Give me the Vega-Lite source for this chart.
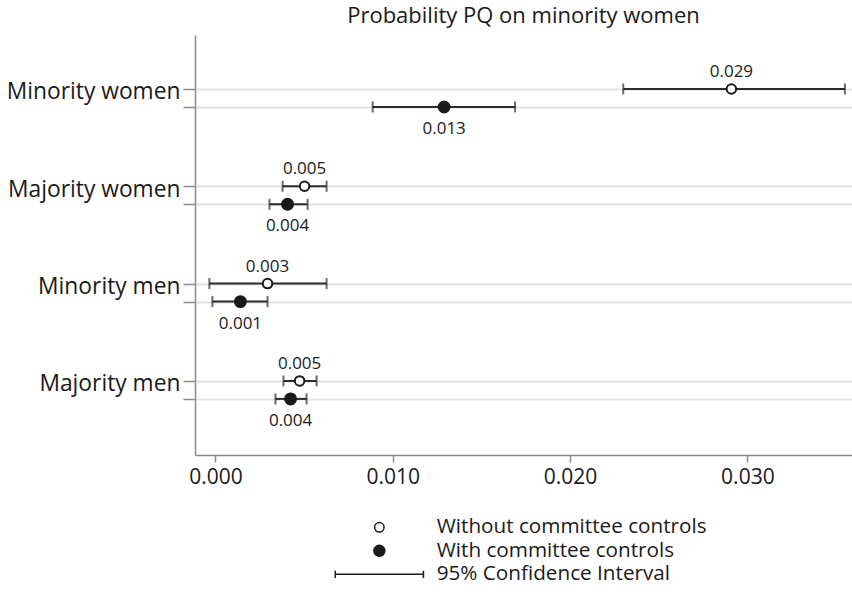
{
  "$schema": "https://vega.github.io/schema/vega-lite/v6.json",
  "width": 657,
  "height": 420,
  "autosize": {"type": "none"},
  "padding": {"left": 195, "top": 35, "right": 0, "bottom": 149},
  "background": "white",
  "config": {"view": {"stroke": null}},
  "title": {"text": "Probability PQ on minority women", "anchor": "middle", "frame": "group", "font": "Open Sans", "fontSize": 22, "fontWeight": "normal", "color": "#1a1a1a", "offset": 7},
  "data": {"values": [
    {"group": "Minority women", "model": "Without committee controls", "est": 0.0291, "lo": 0.0230, "hi": 0.0355},
    {"group": "Minority women", "model": "With committee controls", "est": 0.0129, "lo": 0.00887, "hi": 0.0169},
    {"group": "Majority women", "model": "Without committee controls", "est": 0.00503, "lo": 0.00379, "hi": 0.00627},
    {"group": "Majority women", "model": "With committee controls", "est": 0.00407, "lo": 0.00305, "hi": 0.0052},
    {"group": "Minority men", "model": "Without committee controls", "est": 0.00294, "lo": -0.00034, "hi": 0.00627},
    {"group": "Minority men", "model": "With committee controls", "est": 0.00141, "lo": -0.00017, "hi": 0.00294},
    {"group": "Majority men", "model": "Without committee controls", "est": 0.00475, "lo": 0.00384, "hi": 0.00571},
    {"group": "Majority men", "model": "With committee controls", "est": 0.00424, "lo": 0.00339, "hi": 0.00514}
  ]},
  "encoding": {
    "y": {"field": "group", "type": "nominal", "sort": ["Minority women", "Majority women", "Minority men", "Majority men"],
      "scale": {"domain": ["Minority women", "Majority women", "Minority men", "Majority men"], "paddingInner": 0, "paddingOuter": 0.158, "align": 0.466},
      "axis": null},
    "yOffset": {"field": "model", "type": "nominal", "scale": {"type": "point", "domain": ["Without committee controls", "With committee controls"], "range": [39.65, 57.65], "padding": 0}}
  },
  "resolve": {"axis": {"y": "independent"}},
  "layer": [
    {
      "mark": {"type": "rule", "stroke": "#2b2b2b", "strokeWidth": 2},
      "encoding": {
        "x": {"field": "lo", "type": "quantitative",
          "scale": {"domain": [-0.00115, 0.0359], "nice": false, "zero": false},
          "axis": {"title": null, "values": [0, 0.01, 0.02, 0.03], "format": ".3f", "grid": false, "tickSize": 7, "tickColor": "#8c8c8c", "tickWidth": 1.5, "domainColor": "#8c8c8c", "domainWidth": 1.5, "labelFont": "Open Sans", "labelFontSize": 21, "labelColor": "#1a1a1a", "labelPadding": 4}},
        "x2": {"field": "hi"},
        "y": {"field": "group", "type": "nominal", "sort": ["Minority women", "Majority women", "Minority men", "Majority men"],
          "axis": {"title": null, "orient": "left", "tickOffset": -9, "labelOffset": 3, "grid": true, "gridColor": "#e3e3e3", "gridWidth": 2, "tickSize": 12, "tickColor": "#8c8c8c", "tickWidth": 1.5, "domain": true, "domainColor": "#8c8c8c", "domainWidth": 1.5, "labelFont": "Open Sans", "labelFontSize": 22.8, "labelColor": "#1a1a1a", "labelPadding": 3, "labelLimit": 300}}
      }
    },
    {
      "mark": {"type": "tick", "color": "#2b2b2b", "thickness": 2, "size": 11},
      "encoding": {"x": {"field": "lo", "type": "quantitative"}}
    },
    {
      "mark": {"type": "tick", "color": "#2b2b2b", "thickness": 2, "size": 11},
      "encoding": {"x": {"field": "hi", "type": "quantitative"}}
    },
    {
      "mark": {"type": "point", "stroke": "#1a1a1a", "strokeWidth": 2, "opacity": 1, "fillOpacity": 1},
      "encoding": {
        "x": {"field": "est", "type": "quantitative"},
        "y": {"field": "group", "type": "nominal", "sort": ["Minority women", "Majority women", "Minority men", "Majority men"],
          "axis": {"title": null, "orient": "left", "tickOffset": 9, "grid": true, "gridColor": "#e3e3e3", "gridWidth": 2, "tickSize": 12, "tickColor": "#8c8c8c", "tickWidth": 1.5, "domain": false, "labels": false}},
        "shape": {"field": "model", "type": "nominal",
          "scale": {"domain": ["Without committee controls", "With committee controls", "95% Confidence Interval"], "range": ["circle", "circle", "M-7.2,0H7.2M-7.2,-0.6V0.6M7.2,-0.6V0.6"]},
          "legend": {"title": null, "orient": "none", "legendX": 174, "legendY": 482, "direction": "vertical", "labelFont": "Open Sans", "labelFontSize": 20.7, "labelColor": "#1a1a1a", "labelOffset": 47, "rowPadding": 1.5, "labelLimit": 400,
            "encode": {"symbols": {"update": {"stroke": {"value": "#1a1a1a"}, "strokeWidth": {"value": 2}, "opacity": {"value": 1}}}}}},
        "fill": {"field": "model", "type": "nominal",
          "scale": {"domain": ["Without committee controls", "With committee controls", "95% Confidence Interval"], "range": ["white", "#1a1a1a", "transparent"]},
          "legend": {"title": null, "orient": "none", "legendX": 174, "legendY": 482, "direction": "vertical", "labelFont": "Open Sans", "labelFontSize": 20.7, "labelColor": "#1a1a1a", "labelOffset": 47, "rowPadding": 1.5, "labelLimit": 400,
            "encode": {"symbols": {"update": {"stroke": {"value": "#1a1a1a"}, "strokeWidth": {"value": 2}, "opacity": {"value": 1}}}}}},
        "size": {"field": "model", "type": "nominal",
          "scale": {"domain": ["Without committee controls", "With committee controls", "95% Confidence Interval"], "range": [90, 150, 144]},
          "legend": {"title": null, "orient": "none", "legendX": 174, "legendY": 482, "direction": "vertical", "labelFont": "Open Sans", "labelFontSize": 20.7, "labelColor": "#1a1a1a", "labelOffset": 47, "rowPadding": 1.5, "labelLimit": 400,
            "encode": {"symbols": {"update": {"stroke": {"value": "#1a1a1a"}, "strokeWidth": {"value": 2}, "opacity": {"value": 1}}}}}}
      }
    },
    {
      "transform": [{"filter": "datum.model == 'Without committee controls'"}],
      "mark": {"type": "text", "font": "Open Sans", "fontSize": 17, "color": "#1a1a1a", "baseline": "middle", "dy": -17},
      "encoding": {"x": {"field": "est", "type": "quantitative"}, "text": {"field": "est", "type": "quantitative", "format": ".3f"}}
    },
    {
      "transform": [{"filter": "datum.model == 'With committee controls'"}],
      "mark": {"type": "text", "font": "Open Sans", "fontSize": 17, "color": "#1a1a1a", "baseline": "middle", "dy": 22},
      "encoding": {"x": {"field": "est", "type": "quantitative"}, "text": {"field": "est", "type": "quantitative", "format": ".3f"}}
    }
  ]
}
